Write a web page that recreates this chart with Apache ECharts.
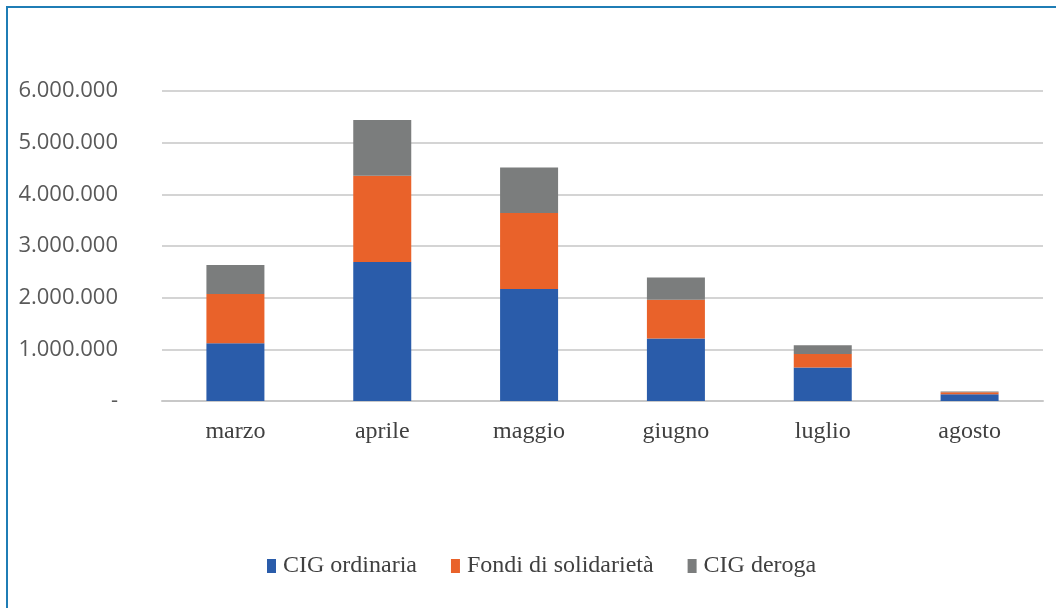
<!DOCTYPE html>
<html>
<head>
<meta charset="utf-8">
<script src="https://cdn.jsdelivr.net/npm/echarts@6/dist/echarts.min.js"></script>
<style>
    html, body { margin: 0; padding: 0; background: #ffffff; }
    #frame {
        position: absolute; left: 6px; top: 6px; width: 1050px; height: 602px;
        border-left: 2px solid #1f7db5; border-top: 2px solid #1f7db5;
        box-sizing: border-box;
    }
    #chart { position: absolute; left: 0; top: 0; width: 1056px; height: 608px; }
</style>
</head>
<body>
<div id="frame"></div>
<div id="chart"></div>
<script>
const mesi = ['marzo', 'aprile', 'maggio', 'giugno', 'luglio', 'agosto'];
const cigOrdinaria = [1120000, 2690000, 2170000, 1210000, 650000, 130000];
const fondiSolidarieta = [950000, 1670000, 1470000, 750000, 260000, 40000];
const cigDeroga = [560000, 1080000, 880000, 430000, 170000, 15000];

const serif = '"Liberation Serif", "DejaVu Serif", serif';

function formatIt(v) {
    if (v === 0) return '-';
    return String(v).replace(/\B(?=(\d{3})+(?!\d))/g, '.');
}

const chart = echarts.init(document.getElementById('chart'));
const option = {
    animation: false,
    color: ['#2a5caa', '#e9622a', '#7b7d7d'],
    grid: { left: 162, right: 13, top: 91, bottom: 207 },
    legend: {
        top: 549,
        left: 262,
        itemWidth: 9,
        itemHeight: 14,
        itemGap: 34,
        icon: 'rect',
        textStyle: { fontFamily: serif, fontSize: 24, color: '#404040', padding: [0, 0, 0, 2] },
        data: ['CIG ordinaria', 'Fondi di solidarietà', 'CIG deroga']
    },
    xAxis: {
        type: 'category',
        data: mesi,
        axisTick: { show: false },
        axisLine: { lineStyle: { color: '#c8c8c8', width: 2 } },
        axisLabel: { margin: 19, fontFamily: serif, fontSize: 24, color: '#404040' }
    },
    yAxis: {
        type: 'value',
        min: 0,
        max: 6000000,
        interval: 1000000,
        axisLine: { show: false },
        axisTick: { show: false },
        splitLine: { lineStyle: { color: '#d4d4d4', width: 2 } },
        axisLabel: {
            margin: 44,
            fontFamily: '"Open Sans", "Liberation Sans", sans-serif',
            fontSize: 22,
            color: '#595959',
            formatter: formatIt
        }
    },
    series: [
        { name: 'CIG ordinaria', type: 'bar', stack: 'tot', barWidth: 58, data: cigOrdinaria },
        { name: 'Fondi di solidarietà', type: 'bar', stack: 'tot', barWidth: 58, data: fondiSolidarieta },
        { name: 'CIG deroga', type: 'bar', stack: 'tot', barWidth: 58, data: cigDeroga }
    ]
};
chart.setOption(option);
</script>
</body>
</html>
